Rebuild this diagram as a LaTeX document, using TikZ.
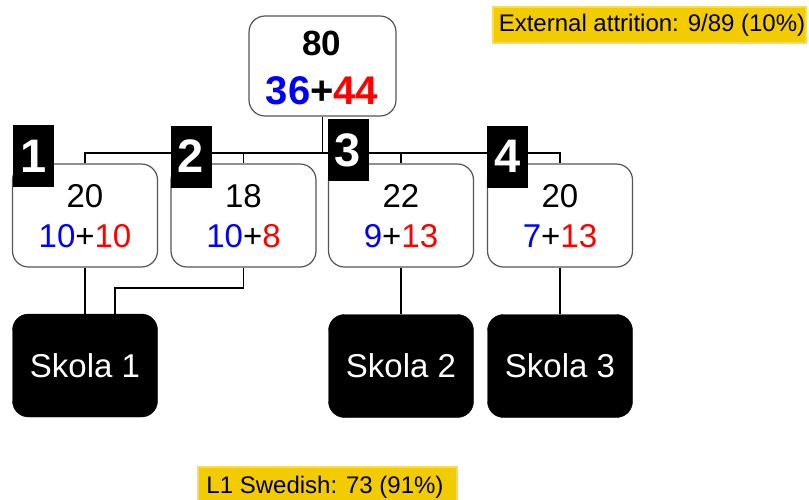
\documentclass[tikz,border=0pt]{standalone}
\usepackage{fontspec}
\setmainfont{Liberation Sans}
\definecolor{boxgray}{RGB}{85,85,85}
\definecolor{noteyellow}{RGB}{242,204,0}
\definecolor{noteedge}{RGB}{248,218,90}
\definecolor{nblue}{RGB}{0,0,255}
\definecolor{nred}{RGB}{255,0,0}
\newcommand{\fsz}[1]{\fontsize{#1}{#1}\selectfont}
\tikzset{
  grpbox/.style={draw=boxgray, line width=1.2pt, rounded corners=16pt, fill=white,
    minimum width=145pt, minimum height=103pt, inner sep=0pt},
  schoolbox/.style={fill=black, draw=black, rounded corners=16pt,
    minimum width=145pt, minimum height=103pt, inner sep=0pt, text=white, font=\fsz{33}},
  tagbox/.style={fill=black, text=white, font=\fsz{47}\bfseries,
    minimum width=41pt, minimum height=62pt, inner sep=0pt},
  notebox/.style={fill=noteyellow, draw=noteedge, line width=2pt, inner sep=0pt},
  notetext/.style={anchor=base, inner sep=0pt, font=\fsz{24}},
  cnt/.style={anchor=base, inner sep=0pt, font=\fsz{33}},
  link/.style={draw=black, line width=1.3pt},
}
\begin{document}
\begin{tikzpicture}[x=1pt,y=-1pt]
\useasboundingbox (0,0) rectangle (809,499);

% total cohort
\node[grpbox, minimum width=147pt, minimum height=100pt] (top) at (322.5,66) {};
\node[anchor=base, inner sep=0pt, font=\fsz{35}\bfseries] (topn) at (322,55) {80};
\node[anchor=base, inner sep=0pt, font=\fsz{40}\bfseries] (tops) at (322,104)
  {\textcolor{nblue}{36}+\textcolor{nred}{44}};

% groups
\node[grpbox] (b1) at (85,215.5) {};
\node[grpbox] (b2) at (243.5,215.5) {};
\node[grpbox] (b3) at (401,215.5) {};
\node[grpbox] (b4) at (560,215.5) {};

% schools
\node[schoolbox] (s1) at (85,365.5) {Skola 1};
\node[schoolbox] (s2) at (401,366) {Skola 2};
\node[schoolbox] (s3) at (560,366) {Skola 3};

% connectors
\coordinate (bus) at (322.5,153);
\draw[link] (top.south) -- (bus);
\draw[link] (b1.north) |- (bus) -| (b4.north);
\draw[link] (b2.north) -- (b2.north |- bus);
\draw[link] (b3.north) -- (b3.north |- bus);
\draw[link] (b1.south) -- (s1.north -| b1.south);
\coordinate (j2) at (115,288);
\draw[link] (b2.south) |- (j2) -- (j2 |- s1.north);
\draw[link] (b3.south) -- (s2.north -| b3.south);
\draw[link] (b4.south) -- (s3.north -| b4.south);

% group counts
\node[cnt] (n1) at (85,207) {20};
\node[cnt] (p1) at (85,247) {\textcolor{nblue}{10}+\textcolor{nred}{10}};
\node[cnt] (n2) at (243.5,207) {18};
\node[cnt] (p2) at (243.5,247) {\textcolor{nblue}{10}+\textcolor{nred}{8}};
\node[cnt] (n3) at (401,207) {22};
\node[cnt] (p3) at (401,247) {\textcolor{nblue}{9}+\textcolor{nred}{13}};
\node[cnt] (n4) at (560,207) {20};
\node[cnt] (p4) at (560,247) {\textcolor{nblue}{7}+\textcolor{nred}{13}};

% group tags
\node[tagbox] (t1) at (33.5,156) {1};
\node[tagbox] (t2) at (191,156.5) {2};
\node[tagbox] (t3) at (348,150) {3};
\node[tagbox] (t4) at (507.5,156.5) {4};

% notes
\node[notebox, minimum width=313pt, minimum height=36pt] (ext) at (649.5,25) {};
\node[notetext] (extt) at (652,31) {External attrition: 9/89 (10\%)};
\node[notebox, minimum width=259pt, minimum height=40pt] (swe) at (327.5,487) {};
\node[notetext] (swet) at (325,493) {L1 Swedish: 73 (91\%)};
\end{tikzpicture}
\end{document}
